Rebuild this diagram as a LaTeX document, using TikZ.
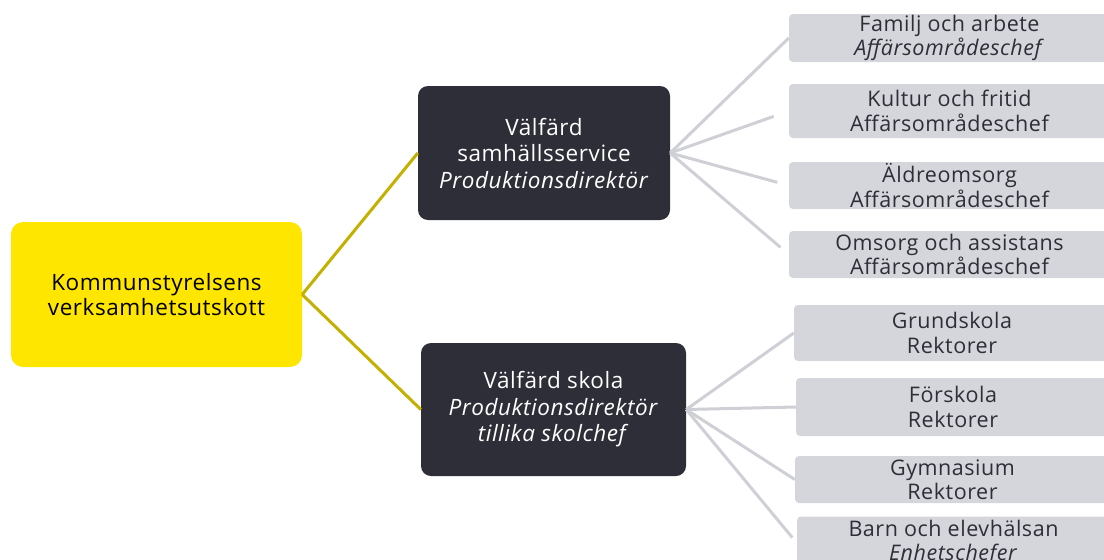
\documentclass[tikz,border=0pt]{standalone}
\usepackage{fontspec}
\setmainfont{Open Sans}[LetterSpace=2.5]
\begin{document}
\begin{tikzpicture}[x=1pt,y=-1pt,
	yellowbox/.style={fill=kyellow,rounded corners=12pt,inner sep=0pt,align=center,text=black,font=\fontsize{22.5}{25.5}\selectfont},
	darkbox/.style={fill=kdark,rounded corners=10pt,inner sep=0pt,align=center,text=white,font=\fontsize{22.5}{26.5}\selectfont},
	graybox/.style={fill=kgray,rounded corners=4pt,inner sep=0pt,align=center,text=kdark,font=\fontsize{21.5}{24.5}\selectfont},
	yline/.style={draw=kolive,line width=3pt},
	gline/.style={draw=klgray,line width=3pt}]
	\definecolor{kyellow}{HTML}{FFE600}
	\definecolor{kdark}{HTML}{2E2E38}
	\definecolor{kgray}{HTML}{D5D5DC}
	\definecolor{klgray}{HTML}{CFCFD6}
	\definecolor{kolive}{HTML}{C4B000}
	\useasboundingbox (0,0) rectangle (1104,560);
	\clip (0,0) rectangle (1104,560);
	% main boxes
	\node [yellowbox,minimum width=291pt,minimum height=145pt] (ks) at (156.5,294.5) {Kommunstyrelsens\\verksamhetsutskott};
	\node [darkbox,minimum width=252pt,minimum height=134pt] (vs) at (544,153) {Välfärd\\samhällsservice\\\textit{Produktionsdirektör}};
	\node [darkbox,minimum width=265pt,minimum height=133pt] (vsk) at (553.5,409.5) {Välfärd skola\\\textit{Produktionsdirektör}\\\textit{tillika skolchef}};
	% upper branch
	\node [graybox,minimum width=321pt,minimum height=48pt] (fa) at (949.5,38) {Familj och arbete\\\textit{Affärsområdeschef}};
	\node [graybox,minimum width=321pt,minimum height=54pt] (kf) at (949.5,111) {Kultur och fritid\\Affärsområdeschef};
	\node [graybox,minimum width=321pt,minimum height=47pt] (ao) at (949.5,185.5) {Äldreomsorg\\Affärsområdeschef};
	\node [graybox,minimum width=321pt,minimum height=47pt] (oa) at (949.5,254.5) {Omsorg och assistans\\Affärsområdeschef};
	% lower branch
	\node [graybox,minimum width=316pt,minimum height=56pt] (gs) at (952,333) {Grundskola\\Rektorer};
	\node [graybox,minimum width=314pt,minimum height=58pt] (fs) at (953,407) {Förskola\\Rektorer};
	\node [graybox,minimum width=315pt,minimum height=47pt] (gy) at (952.5,479.5) {Gymnasium\\Rektorer};
	\node [graybox,minimum width=313pt,minimum height=53pt] (be) at (953.5,543) {Barn och elevhälsan\\\textit{Enhetschefer}};
	% connectors
	\draw [yline] (ks.east) -- (vs.west);
	\draw [yline] (ks.east) -- (vsk.west);
	\draw [gline] (vs.east) -- (fa.west);
	\draw [gline,shorten >=16pt] (vs.east) -- (kf.west);
	\draw [gline,shorten >=12pt] (vs.east) -- (ao.west);
	\draw [gline,shorten >=11pt] (vs.east) -- (oa.west);
	\draw [gline] (vsk.east) -- (gs.west);
	\draw [gline] (vsk.east) -- (fs.west);
	\draw [gline] (vsk.east) -- (gy.west);
	\draw [gline,shorten >=7pt] (vsk.east) -- (be.west);
\end{tikzpicture}
\end{document}
